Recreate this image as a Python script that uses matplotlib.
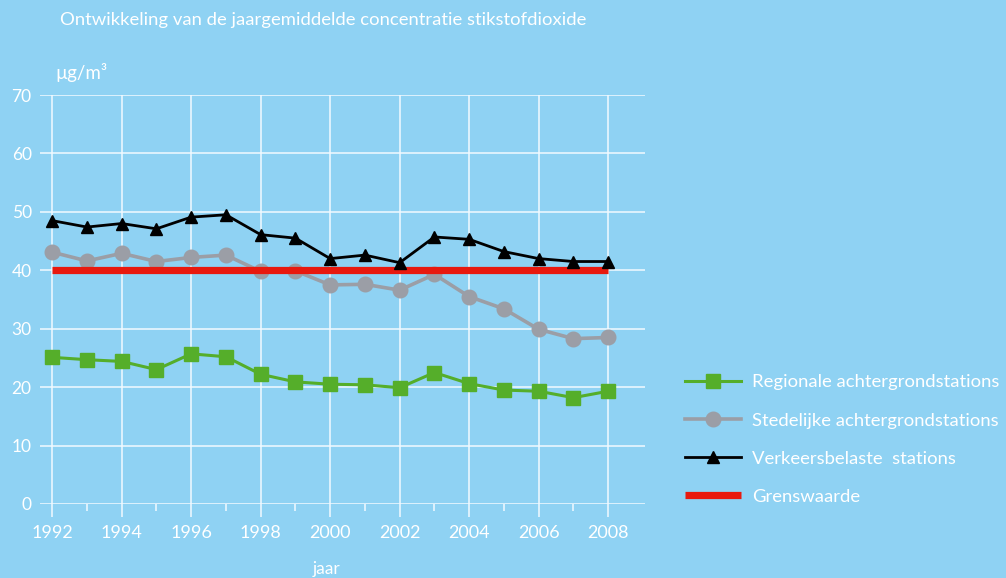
import matplotlib
matplotlib.use("Agg")
import matplotlib.pyplot as plt
from matplotlib.ticker import MultipleLocator, FixedLocator

years = list(range(1992, 2009))
regionale = [25.1, 24.7, 24.4, 23.0, 25.7, 25.2, 22.2, 20.9, 20.5, 20.4, 19.9, 22.5, 20.6, 19.5, 19.3, 18.2, 19.3]
stedelijke = [43.1, 41.6, 42.9, 41.5, 42.2, 42.6, 39.8, 39.9, 37.5, 37.6, 36.6, 39.3, 35.5, 33.4, 29.9, 28.3, 28.5]
verkeer = [48.5, 47.4, 48.0, 47.1, 49.1, 49.5, 46.1, 45.5, 42.0, 42.6, 41.3, 45.7, 45.3, 43.2, 42.0, 41.5, 41.5]
grens_years = [1992, 2008]
grens = [40, 40]

labels = ["Regionale achtergrondstations", "Stedelijke achtergrondstations",
          "Verkeersbelaste  stations", "Grenswaarde"]
title = "Ontwikkeling van de jaargemiddelde concentratie stikstofdioxide"
unit = "µg/m³"
xlabel = "jaar"

BG = "#8fd2f3"
GREEN = "#55ae2a"
GRAY = "#9b9ea6"
RED = "#e8190e"
FONT = ["Lato", "DejaVu Sans"]
plt.rcParams["font.family"] = FONT

fig = plt.figure(figsize=(10.06, 5.78), dpi=100, facecolor=BG)
ax = fig.add_axes([40/1006, 1-504/578, 605/1006, 409/578])
ax.set_facecolor(BG)

ax.set_xlim(1991.65, 2009.06)
ax.set_ylim(0, 70)

for s in ax.spines.values():
    s.set_visible(False)

ax.yaxis.set_major_locator(MultipleLocator(10))
ax.xaxis.set_major_locator(FixedLocator(list(range(1992, 2009, 2))))
ax.xaxis.set_minor_locator(FixedLocator(list(range(1993, 2008, 2))))
ax.grid(True, which="major", color="#f2faff", linewidth=1.1)
ax.tick_params(axis="y", length=0, pad=6, labelsize=12.5, labelcolor="white")
ax.tick_params(axis="x", which="major", length=9, width=1.1, color="#f2faff",
               pad=6, labelsize=13, labelcolor="white")
ax.tick_params(axis="x", which="minor", length=5, width=1.1, color="#f2faff")

l1, = ax.plot(years, regionale, color=GREEN, lw=2.2, marker="s", ms=9.5, zorder=3, clip_on=False)
l2, = ax.plot(years, stedelijke, color=GRAY, lw=2.6, marker="o", ms=10.5, zorder=3, clip_on=False)
l4, = ax.plot(grens_years, grens, color=RED, lw=5.2, solid_capstyle="butt", zorder=4)
l3, = ax.plot(years, verkeer, color="black", lw=2, marker="^", ms=9, zorder=5, clip_on=False)

fig.text(60/1006, 1-20/578, title, color="white", fontsize=13.3, va="center", ha="left")
fig.text(55/1006, 1-72/578, unit, color="white", fontsize=13.5, va="center", ha="left")
fig.text(327/1006, 1-569/578, xlabel, color="white", fontsize=12.5, va="center", ha="center")

leg = fig.legend([l1, l2, l3, l4], labels, loc="upper left",
                 bbox_to_anchor=(678/1006, 1-367/578), frameon=False,
                 fontsize=13.3, labelcolor="white", handlelength=3.0,
                 handletextpad=0.6, labelspacing=1.2, borderaxespad=0)

fig.savefig("out.png", dpi=100, facecolor=BG)
